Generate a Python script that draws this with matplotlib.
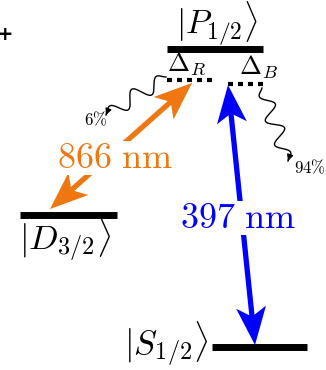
import numpy as np
import matplotlib
matplotlib.use("Agg")
import matplotlib.pyplot as plt
from matplotlib.patches import Polygon, FancyArrowPatch

plt.rcParams['mathtext.fontset'] = 'cm'

# ---- data (diagram coordinates in px, y downward) ----
level_labels = [r'$|P_{1/2}\rangle$', r'$|D_{3/2}\rangle$', r'$|S_{1/2}\rangle$']
level_x0 = [167, 20, 212]
level_x1 = [263, 117, 307]
level_y = [49, 215, 347]

detuning_labels = [r'$\Delta_R$', r'$\Delta_B$']
detuning_x0 = [167, 228]
detuning_x1 = [212, 263]
detuning_y = [80, 84]

transition_labels = [r'$\mathrm{866\ nm}$', r'$\mathrm{397\ nm}$']
transition_colors = ['#EE7711', '#0000FF']
transition_start = [(192, 83), (228, 85)]
transition_end = [(50, 209), (255, 345)]
transition_label_pos = [(115, 158), (238, 218)]

branch_labels = [r'$6\%$', r'$94\%$']
branch_start = [(166, 77), (262, 88)]
branch_end = [(106, 115), (288, 161)]
branch_label_pos = [(96, 120), (310, 168)]
branch_periods = [2.5, 3.0]

W, H = 326, 370
fig = plt.figure(figsize=(W / 100, H / 100), dpi=100)
ax = fig.add_axes([0, 0, 1, 1])
ax.set_xlim(0, W)
ax.set_ylim(H, 0)
ax.axis('off')


def head(ax, tip, direction, length, width, color, notch=0.25):
    d = np.asarray(direction, float)
    d /= np.hypot(*d)
    n = np.array([-d[1], d[0]])
    tip = np.asarray(tip, float)
    base = tip - d * length
    pts = [tip, base + n * width / 2, tip - d * length * (1 - notch), base - n * width / 2]
    ax.add_patch(Polygon(pts, closed=True, color=color, lw=0, zorder=3))


def double_arrow(ax, p0, p1, color, lw=3.8, hl=38, hw=30):
    p0 = np.asarray(p0, float)
    p1 = np.asarray(p1, float)
    d = p1 - p0
    d /= np.hypot(*d)
    a = p0 + d * hl * 0.7
    b = p1 - d * hl * 0.7
    ax.plot([a[0], b[0]], [a[1], b[1]], color=color, lw=lw, solid_capstyle='butt', zorder=2)
    head(ax, p0, -d, hl, hw, color)
    head(ax, p1, d, hl, hw, color)


# levels
for lab, x0, x1, y in zip(level_labels, level_x0, level_x1, level_y):
    ax.plot([x0, x1], [y, y], color='black', lw=5, solid_capstyle='butt', zorder=2)
ax.text((level_x0[0] + level_x1[0]) / 2 + 2, 24, level_labels[0], fontsize=24,
        ha='center', va='center')
ax.text(level_x0[1] - 1, level_y[1] + 24, level_labels[1], fontsize=25, ha='left', va='center')
ax.text(level_x0[2] - 3, level_y[2] - 3, level_labels[2], fontsize=25, ha='right', va='center')

# detunings
for lab, x0, x1, y in zip(detuning_labels, detuning_x0, detuning_x1, detuning_y):
    ax.plot([x0, x1], [y, y], color='black', lw=3, linestyle=(0, (1.2, 1.2)),
            dash_capstyle='butt', zorder=2)
ax.text(detuning_x0[0], detuning_y[0] - 3, detuning_labels[0], fontsize=19, ha='left', va='bottom')
ax.text(detuning_x0[1] + 11, detuning_y[1] - 3, detuning_labels[1], fontsize=19, ha='left', va='bottom')

# transitions
for lab, col, s, e, lp in zip(transition_labels, transition_colors, transition_start,
                              transition_end, transition_label_pos):
    double_arrow(ax, s, e, col)
    ax.text(lp[0], lp[1], lab, color=col, fontsize=26, ha='center', va='center', zorder=4,
            bbox=dict(facecolor='white', edgecolor='none', pad=0))

# spontaneous decay (wavy)
for lab, s, e, lp, per in zip(branch_labels, branch_start, branch_end, branch_label_pos, branch_periods):
    s = np.asarray(s, float)
    e = np.asarray(e, float)
    d = e - s
    L = np.hypot(*d)
    u = d / L
    n = np.array([-u[1], u[0]])
    t = np.linspace(0, 1, 300)
    amp = 8 * np.sin(np.pi * np.clip(t, 0, 1)) ** 0.3
    off = amp * np.sin(2 * np.pi * per * t)
    pts = s[None, :] + t[:, None] * d[None, :] + off[:, None] * n[None, :]
    ax.plot(pts[:, 0], pts[:, 1], color='black', lw=1.0, zorder=2)
    ax.add_patch(FancyArrowPatch(pts[-6], pts[-1], arrowstyle='-|>', mutation_scale=9,
                                 color='black', lw=1.0, zorder=3))
    ax.text(lp[0], lp[1], lab, fontsize=12, ha='center', va='center')

ax.text(5, 34, '+', fontsize=14, ha='center', va='center', fontweight='bold')

fig.savefig('out.png', dpi=100)
